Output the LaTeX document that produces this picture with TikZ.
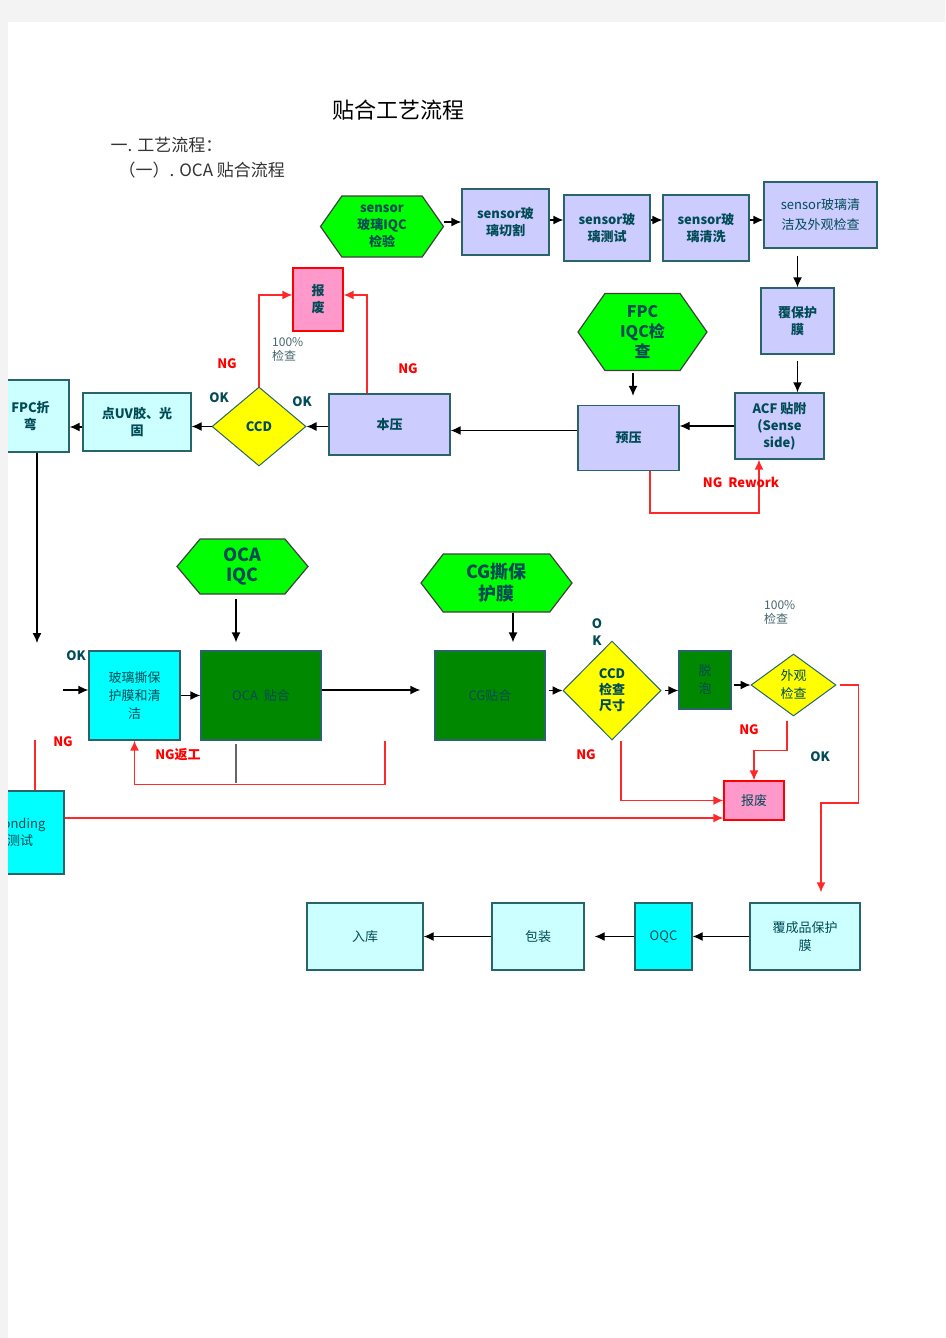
\documentclass[tikz,border=0pt]{standalone}
\usepackage{fontspec}
\setmainfont{Noto Sans CJK SC}
\usetikzlibrary{arrows.meta,shapes.geometric,shapes.symbols}
\definecolor{pagebg}{RGB}{243,243,243}
\definecolor{lav}{RGB}{204,204,255}
\definecolor{ltcyan}{RGB}{204,255,255}
\definecolor{cyn}{RGB}{0,255,255}
\definecolor{dkgreen}{RGB}{0,136,0}
\definecolor{brgreen}{RGB}{0,255,0}
\definecolor{yel}{RGB}{255,255,0}
\definecolor{pnk}{RGB}{255,153,204}
\definecolor{redc}{RGB}{255,40,40}
\definecolor{bordc}{RGB}{40,100,105}
\definecolor{txtc}{RGB}{0,75,85}
\definecolor{notec}{RGB}{70,100,110}

\begin{document}
\begin{tikzpicture}[x=1pt,y=-1pt,
  box/.style={draw=bordc, line width=1.3pt, fill=lav, text=txtc, align=center, inner sep=0pt,
    font=\fontsize{13}{17}\selectfont\bfseries},
  hexa/.style={shape=signal, signal to=west and east, signal pointer angle=110, draw=black!75,
    line width=1.2pt, fill=brgreen, text=txtc, align=center, inner sep=0pt,
    font=\fontsize{13}{17}\selectfont\bfseries},
  dia/.style={diamond, draw=bordc, line width=1pt, fill=yel, text=txtc, align=center, inner sep=0pt,
    font=\fontsize{13}{16}\selectfont\bfseries},
  scrap/.style={box, draw=red, fill=pnk},
  arr/.style={-{Latex[length=10pt,width=9pt]}, line width=1.3pt, black},
  ngarr/.style={-{Latex[length=10pt,width=9pt]}, line width=1.5pt, redc},
  ng/.style={font=\fontsize{13}{15}\selectfont\bfseries, text=red, inner sep=0pt},
  ok/.style={font=\fontsize{13}{15}\selectfont\bfseries, text=txtc, inner sep=0pt},
  note/.style={font=\fontsize{12}{14}\selectfont, text=notec, align=left, inner sep=0pt}]

	% 页面
	\useasboundingbox (0,0) rectangle (945,1338);
	\fill [pagebg] (0,0) rectangle (945,1338);
	\fill [white] (8,22) rectangle (945,1338);

	\begin{scope}
	\clip (8,22) rectangle (945,1338);

	% 标题
	\node (title) at (398,110) {\fontsize{22}{26}\selectfont 贴合工艺流程};
	\node [anchor=west, text=black!80] (head1) at (107,145) {\fontsize{17}{20}\selectfont 一. 工艺流程：};
	\node [anchor=west, text=black!80] (head2) at (115,170) {\fontsize{17}{20}\selectfont （一）. OCA 贴合流程};

	% sensor 玻璃
	\node [hexa, minimum width=123, minimum height=61] (sniqc) at (382,226.5) {sensor\\玻璃IQC\\检验};
	\node [box, minimum width=87, minimum height=66] (qiege) at (505.5,222) {sensor玻\\璃切割};
	\node [box, minimum width=86, minimum height=66] (ceshi) at (607,228) {sensor玻\\璃测试};
	\node [box, minimum width=86, minimum height=66] (qingxi) at (706,228) {sensor玻\\璃清洗};
	\node [box, minimum width=113, minimum height=66, font=\fontsize{13}{20}\selectfont] (qingjie) at (820.5,215) {sensor玻璃清\\洁及外观检查};
	\node [box, minimum width=73, minimum height=66] (fubaohu) at (797.5,321) {覆保护\\膜};
	\node [box, minimum width=89, minimum height=66] (acf) at (779.5,426) {ACF 贴附\\(Sense\\side)};

	\draw [arr] (sniqc.east |- qiege.west) -- (qiege.west);
	\draw [arr] ([yshift=8]ceshi.west -| qiege.east) -- ([yshift=8]ceshi.west);
	\draw [arr] ([yshift=8]qingxi.west -| ceshi.east) -- ([yshift=8]qingxi.west);
	\draw [arr] ([yshift=-5]qingjie.west -| qingxi.east) -- ([yshift=-5]qingjie.west);
	\draw [arr, shorten <=7pt] (fubaohu.north |- qingjie.south) -- (fubaohu.north);
	\draw [arr, shorten <=6pt] (fubaohu.south) -- (fubaohu.south |- acf.north);

	% FPC
	\node [hexa, minimum width=129, minimum height=77, font=\fontsize{16}{20}\selectfont\bfseries] (fpciqc) at (642.5,332) {FPC\\IQC检\\查};
	\node [box, minimum width=101, minimum height=65] (yuya) at (628.5,438) {预压};
	\node [box, minimum width=121, minimum height=61] (benya) at (389.5,424.5) {本压};
	\node [dia, minimum width=94, minimum height=79] (ccda) at (259,426.5) {CCD};
	\node [box, fill=ltcyan, minimum width=108, minimum height=58] (dianuv) at (137,422) {点UV胶、光\\固};
	\node [box, fill=ltcyan, minimum width=77, minimum height=72] (fpczw) at (30.5,416) {FPC折\\弯};
	\node [scrap, minimum width=50, minimum height=63] (bfa) at (318,299.5) {报\\废};

	\draw [arr, shorten <=2pt, shorten >=9pt] ([xshift=4.5]yuya.north |- fpciqc.south) -- ([xshift=4.5]yuya.north);
	\draw [arr] (acf.west) -- (acf.west -| yuya.east);
	\draw [arr] ([yshift=-6]benya.east -| yuya.west) -- ([yshift=-6]benya.east);
	\draw [arr] (ccda.east -| benya.west) -- (ccda.east);
	\draw [arr] (ccda.west) -- (ccda.west -| dianuv.east);
	\draw [arr] ([yshift=-5]dianuv.west) -- ([yshift=-5]dianuv.west -| fpczw.east);
	\draw [ngarr] (ccda.north) |- ([yshift=4.5]bfa.west);
	\draw [ngarr] ([xshift=-22.5]benya.north) |- ([yshift=4.5]bfa.east);
	\draw [ngarr] ([xshift=21.5]yuya.south) -- ++(0,42) -| ([xshift=-20.5]acf.south);

	\node [ng] (ng1) at (227,364) {NG};
	\node [note, anchor=north west] (chk1) at (272,337) {100\%\\检查};
	\node [ng] (ng2) at (408,369) {NG};
	\node [ok] (ok1) at (219,398) {OK};
	\node [ok] (ok2) at (302,402) {OK};
	\node [ng, font=\fontsize{13}{15}\selectfont\bfseries] (ngrw) at (741,482) {NG\ \ Rework};

	% OCA 贴合
	\coordinate (fpcdown) at (37,643);
	\coordinate (okin) at (63,690);
	\coordinate (ngtop) at (35,740);
	\node [hexa, signal pointer angle=100, minimum width=131, minimum height=55, font=\fontsize{18}{20}\selectfont\bfseries] (ocaiqc) at (242.5,566.5) {OCA\\IQC};
	\node [hexa, signal pointer angle=105, minimum width=151, minimum height=58, font=\fontsize{18}{22}\selectfont\bfseries] (cgsi) at (496.5,583) {CG撕保\\护膜};
	\node [box, fill=cyn, font=\fontsize{13}{18}\selectfont, minimum width=91, minimum height=89] (bolisi) at (134.5,695.5) {玻璃撕保\\护膜和清\\洁};
	\node [box, fill=dkgreen, font=\fontsize{13}{16}\selectfont, minimum width=120, minimum height=89] (ocatie) at (261,695.5) {OCA\ \ 贴合};
	\node [box, fill=dkgreen, font=\fontsize{13}{16}\selectfont, minimum width=110, minimum height=89] (cgtie) at (490,695.5) {CG贴合};
	\node [dia, minimum width=98, minimum height=99] (ccdb) at (612,690.5) {CCD\\检查\\尺寸};
	\node [box, fill=dkgreen, font=\fontsize{13}{18}\selectfont, minimum width=52, minimum height=58] (tuopao) at (705,680) {脱\\泡};
	\node [dia, minimum width=85, minimum height=62, font=\fontsize{13}{18}\selectfont] (waiguan) at (793.5,685) {外观\\检查};
	\node [scrap, font=\fontsize{13}{16}\selectfont, minimum width=60, minimum height=39] (bfb) at (754,800.5) {报废};
	\node [box, fill=cyn, font=\fontsize{13}{17}\selectfont, minimum width=88, minimum height=83] (bonding) at (20,832.5) {bonding\\测试};

	% 成品
	\node [box, fill=ltcyan, font=\fontsize{13}{18}\selectfont, minimum width=110, minimum height=67] (fcp) at (805,936.5) {覆成品保护\\膜};
	\node [box, fill=cyn, font=\fontsize{13}{16}\selectfont, minimum width=57, minimum height=67] (oqc) at (663.5,936.5) {OQC};
	\node [box, fill=ltcyan, font=\fontsize{13}{16}\selectfont, minimum width=92, minimum height=67] (baozhuang) at (538,936.5) {包装};
	\node [box, fill=ltcyan, font=\fontsize{13}{16}\selectfont, minimum width=116, minimum height=67] (ruku) at (365,936.5) {入库};

	\draw [arr] (fpczw.south -| fpcdown) -- (fpcdown);
	\draw [arr] (okin) -- (okin -| bolisi.west);
	\draw [arr] (bolisi.east) -- (ocatie.west);
	\draw [arr, shorten <=4pt, shorten >=8pt] ([xshift=-25]ocatie.north |- ocaiqc.south) -- ([xshift=-25]ocatie.north);
	\draw [arr, shorten >=14pt] ([yshift=5.5]ocatie.east) -- ([yshift=5.5]ocatie.east -| cgtie.west);
	\draw [arr, shorten >=8pt] ([xshift=23]cgtie.north |- cgsi.south) -- ([xshift=23]cgtie.north);
	\draw [arr, shorten <=3pt] (cgtie.east |- ccdb.west) -- (ccdb.west);
	\draw [arr, shorten <=3pt] (ccdb.east) -- (ccdb.east -| tuopao.west);
	\draw [arr, shorten <=2pt] (tuopao.east |- waiguan.west) -- (waiguan.west);
	\draw [ngarr, shorten <=4pt] ([xshift=-6.5]waiguan.south) -- ++(0,34) -| (bfb.north);
	\draw [ngarr, shorten <=3pt, shorten >=10pt] (waiguan.east) -| ++(22,118) -| ([xshift=16]fcp.north);
	\draw [ngarr] ([xshift=9]ccdb.south) |- (bfb.west);
	\draw [ngarr] ([yshift=-17.5]bfb.west -| bonding.east) -- ([yshift=-17.5]bfb.west);
	\draw [ngarr] ([xshift=124]ocatie.south) -- ++(0,44) -| (bolisi.south);
	\draw [redc, line width=1.5pt] (ngtop) -- (ngtop |- bonding.north);
	\draw [black!60, line width=1.3pt] ([xshift=-25,yshift=-3]ocatie.south) -- ++(0,39);

	\node [ok] (ok3) at (76,656) {OK};
	\node [ng] (ng3) at (63,742) {NG};
	\node [ng] (ngfg) at (178,755) {NG返工};
	\node [ok, align=center, font=\fontsize{13}{17}\selectfont\bfseries] (ok4) at (597,632) {O\\K};
	\node [note, anchor=north west] (chk2) at (764,600) {100\%\\检查};
	\node [ng] (ng4) at (749,730) {NG};
	\node [ng] (ng5) at (586,755) {NG};
	\node [ok] (ok5) at (820,757) {OK};

	\draw [arr] (fcp.west) -- (oqc.east);
	\draw [arr, shorten >=10pt] (oqc.west) -- (baozhuang.east);
	\draw [arr] (baozhuang.west) -- (ruku.east);
	\end{scope}
\end{tikzpicture}
\end{document}
